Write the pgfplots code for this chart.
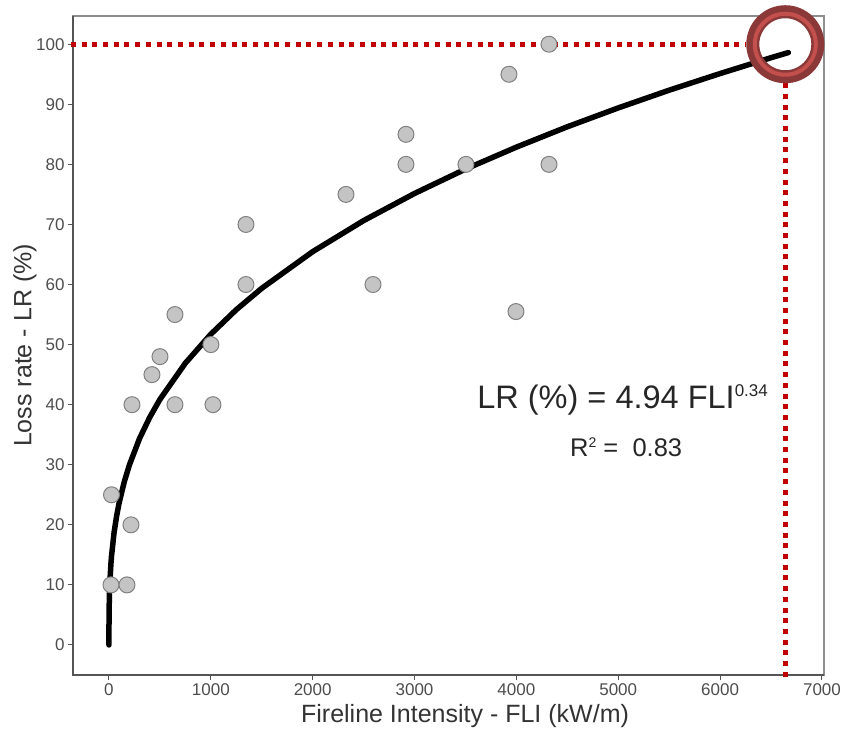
\documentclass[border=0pt]{standalone}
\usepackage{pgfplots}
\pgfplotsset{compat=1.18}
\usepackage{fontspec}
\setmainfont{Liberation Sans}

\definecolor{framedark}{HTML}{555555}
\definecolor{framelight}{HTML}{8E8E8E}
\definecolor{ticktext}{HTML}{4D4D4D}
\definecolor{labeltext}{HTML}{333333}
\definecolor{ptfill}{HTML}{C4C4C4}
\definecolor{ptdraw}{HTML}{808080}
\definecolor{guide}{HTML}{C00000}
\definecolor{ringdark}{HTML}{8A3838}
\definecolor{ringlight}{HTML}{C4504D}

% fitted power law LR = 4.94 FLI^0.34, tabulated
\pgfplotstableread{
fli   lr
0     0
0.5   3.90
1     4.94
2     6.25
5     8.54
10    10.81
20    13.68
25    14.76
50    18.68
75    21.44
100   23.65
150   27.14
200   29.93
300   34.36
400   37.88
500   40.87
750   46.91
1000  51.73
1250  55.81
1500  59.37
2000  65.47
2500  70.64
3000  75.16
3500  79.21
4000  82.87
4500  86.26
5000  89.40
5500  92.35
6000  95.12
6500  97.76
6670  98.61
}\fitcurve

% observed loss rates
\pgfplotstableread{
fli   lr
25    25
20    10
177   10
216   20
226   40
422   45
501   48
648   55
648   40
1001  50
1021  40
1345  60
1345  70
2327  75
2592  60
2916  85
2916  80
3505  80
3927  95
3996  55.5
4320  80
4320  100
}\observed

\begin{document}
\begin{tikzpicture}
\begin{axis}[
  scale only axis,
  width=751pt, height=659pt,
  xmin=-353, xmax=7020,
  ymin=-5, ymax=104.7,
  xtick={0,1000,...,7000},
  ytick={0,10,...,100},
  tick align=outside,
  major tick length=5pt,
  xtick pos=bottom, ytick pos=left,
  tick style={framedark, line width=1pt},
  /pgf/number format/assume math mode=true,
  /pgf/number format/1000 sep={},
  ticklabel style={font=\fontsize{17}{20}\selectfont, text=ticktext},
  axis line style={framelight, line width=1.5pt},
  clip=false,
  every axis y label/.style={at={(rel axis cs:0,0.5)}, xshift=-48pt, rotate=90, anchor=center},
  every axis x label/.style={at={(rel axis cs:0.522,0)}, yshift=-47pt, anchor=base},
  xlabel={Fireline Intensity - FLI (kW/m)},
  ylabel={Loss rate - LR (\%)},
  label style={font=\fontsize{25}{30}\selectfont, text=labeltext},
]
\draw[framedark, line width=2.2pt] (rel axis cs:0,1) -- (rel axis cs:0,0) -- (rel axis cs:1,0);

\addplot[black, line width=5.5pt, line cap=round, line join=round] table[x=fli, y=lr] {\fitcurve};

\addplot[only marks, mark=*, mark size=8pt,
  mark options={fill=ptfill, draw=ptdraw, line width=1pt}] table[x=fli, y=lr] {\observed};

% guide lines to the 100 % point
\draw[guide, line width=5pt, dash pattern=on 5pt off 5.7pt]
  ([xshift=-2pt]axis cs:-353,100) -- ([xshift=-39pt]axis cs:6640,100);
\draw[guide, line width=5pt, dash pattern=on 5pt off 5.7pt]
  ([yshift=-39pt]axis cs:6640,100) -- (axis cs:6640,-6.2);
\draw[ringdark, line width=13pt] (axis cs:6640,100) circle[radius=32.5pt];
\draw[ringlight, line width=4pt] (axis cs:6640,100) circle[radius=30.5pt];

\node[anchor=base west, text=black!85, font=\fontsize{32.5}{38}\selectfont, inner sep=0pt]
  at (axis cs:3615,39.4) {LR (\%) = 4.94 FLI\raisebox{11.5pt}{\fontsize{17}{17}\selectfont 0.34}};
\node[anchor=base west, text=black!85, font=\fontsize{25.5}{30}\selectfont, inner sep=0pt]
  at (axis cs:4526,31.45) {R\raisebox{8.5pt}{\fontsize{14}{14}\selectfont 2} =\ \ 0.83};

\coordinate (sw) at (rel axis cs:0,0);
\coordinate (ne) at (rel axis cs:1,1);
\end{axis}
\pgfresetboundingbox
\path ([shift={(-73pt,-54pt)}]sw) rectangle ([shift={(19pt,16pt)}]ne);
\end{tikzpicture}
\end{document}
